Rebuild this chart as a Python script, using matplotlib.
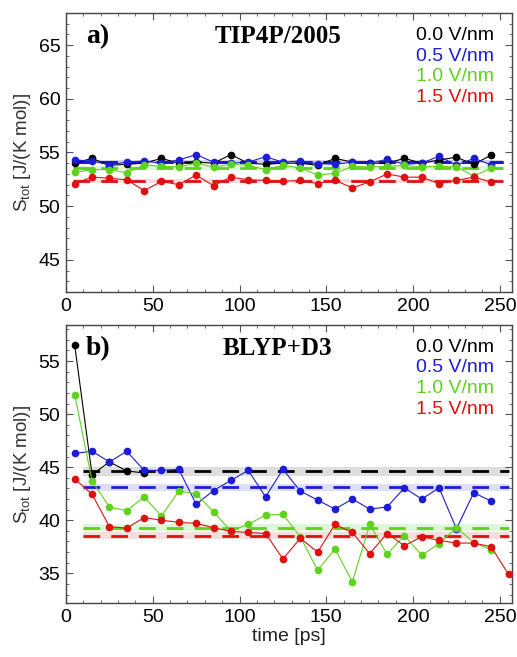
import numpy as np
import matplotlib
matplotlib.use('Agg')
import matplotlib.pyplot as plt
from matplotlib.ticker import MultipleLocator

plt.rcParams['font.family'] = ['Liberation Sans', 'DejaVu Sans']
plt.rcParams['mathtext.default'] = 'regular'

# --- data: panel a) TIP4P/2005 ---
t_a = np.arange(5, 250, 10)
a_00 = [54.0, 54.45, 53.8, 53.9, 54.0, 54.45, 54.0, 54.1, 54.0, 54.8, 54.0, 53.9, 54.0,
        54.0, 53.8, 54.45, 54.1, 54.0, 54.0, 54.45, 54.0, 54.3, 54.55, 53.9, 54.75]
a_05 = [54.3, 54.2, 53.85, 54.1, 54.2, 54.0, 54.3, 54.8, 54.1, 54.0, 54.1, 54.6, 54.1,
        54.2, 53.95, 53.9, 54.1, 54.0, 54.35, 53.9, 54.0, 54.65, 53.8, 54.45, 53.85]
a_10 = [53.15, 53.4, 53.4, 53.1, 53.85, 53.7, 53.65, 54.0, 53.65, 53.9, 53.8, 53.4, 53.8,
        53.55, 52.9, 53.05, 53.7, 53.65, 53.7, 53.8, 53.65, 53.7, 53.65, 52.8, 53.55]
a_15 = [52.1, 52.7, 52.6, 52.45, 51.45, 52.3, 52.0, 52.9, 51.9, 52.7, 52.45, 52.4, 52.3,
        52.4, 52.1, 52.4, 51.7, 52.25, 53.0, 52.7, 52.7, 52.1, 52.4, 52.7, 52.25]
a_mean = [54.15, 54.15, 53.55, 52.35]
a_err = [0.15, 0.15, 0.15, 0.15]

# --- data: panel b) BLYP+D3 ---
t_b0 = np.arange(5, 50, 10)
b_00 = [56.5, 44.3, 45.5, 44.65, 44.45]
t_b = np.arange(5, 250, 10)
b_05 = [46.3, 46.5, 45.5, 46.5, 44.7, 44.7, 44.8, 41.5, 42.8, 43.75, 44.7, 42.2, 44.8,
        42.75, 41.9, 41.05, 42.0, 41.05, 41.25, 43.05, 42.0, 43.05, 39.2, 42.6, 41.8]
b_10 = [51.85, 43.7, 41.25, 40.9, 42.2, 40.4, 42.75, 42.5, 40.8, 39.0, 39.6, 40.5, 40.55,
        38.45, 35.3, 37.3, 34.2, 39.6, 36.8, 38.55, 36.7, 37.8, 39.3, 37.9, 37.2]
t_b3 = np.arange(5, 260, 10)
b_15 = [43.9, 42.45, 39.4, 39.25, 40.25, 40.0, 39.8, 39.7, 39.3, 38.95, 38.85, 38.75, 36.35,
        38.3, 37.0, 39.6, 38.85, 36.85, 38.75, 37.6, 38.45, 38.1, 37.85, 37.85, 37.5, 34.9]
b_mean = [44.6, 43.1, 39.3, 38.55]
b_err = [0.45, 0.35, 0.35, 0.35]

fields = ['0.0 V/nm', '0.5 V/nm', '1.0 V/nm', '1.5 V/nm']
colors = ['#000000', '#1c1cd6', '#5fd21e', '#e01010']
bands = ['#c8c8c8', '#c8c8f0', '#c8f0c0', '#f0c8c8']

fig = plt.figure(figsize=(5.17, 6.57), dpi=100)
ax1 = fig.add_axes([0.1277, 0.5556, 0.8626, 0.4247])
ax2 = fig.add_axes([0.1277, 0.0822, 0.8626, 0.4231])


def style(ax, ylim, ymaj):
    ax.set_xlim(0, 257)
    ax.set_ylim(*ylim)
    ax.xaxis.set_major_locator(MultipleLocator(50))
    ax.xaxis.set_minor_locator(MultipleLocator(10))
    ax.yaxis.set_major_locator(MultipleLocator(ymaj))
    ax.yaxis.set_minor_locator(MultipleLocator(1))
    ax.tick_params(which='both', direction='in', top=True, right=True,
                   color='#555555', labelsize=14, pad=4)
    ax.tick_params(which='major', length=5, width=0.8)
    ax.tick_params(which='minor', length=2.5, width=0.6)
    for s in ax.spines.values():
        s.set_color('#444444')
        s.set_linewidth(1.0)
    ax.set_ylabel(r'S$_{tot}$ [J/(K mol)]', fontsize=13.5, color='#333333', labelpad=4)


def panel(ax, series, means, errs, x0, x1):
    for (t, y), m, e, c, b in zip(series, means, errs, colors, bands):
        ax.fill_between([x0, x1], m - e, m + e, color=b, alpha=0.6, lw=0, zorder=1)
        ax.plot([x0, x1], [m, m], color=c, lw=2.0, dashes=(6, 4), zorder=2)
    for (t, y), c in zip(series, colors):
        ax.plot(t, y, color=c, lw=0.8, marker='o', ms=4.5, zorder=3)


panel(ax1, [(t_a, a_00), (t_a, a_05), (t_a, a_10), (t_a, a_15)], a_mean, a_err, 4, 252)
panel(ax2, [(t_b0, b_00), (t_b, b_05), (t_b, b_10), (t_b3, b_15)], b_mean, b_err, 10, 255)

style(ax1, (42, 68), 5)
style(ax2, (32.2, 58.4), 5)
ax2.set_xlabel('time [ps]', fontsize=14, color='#222222', labelpad=2)

for ax, tag, name in [(ax1, 'a)', 'TIP4P/2005'), (ax2, 'b)', 'BLYP+D3')]:
    ax.text(0.045, 0.915, tag, transform=ax.transAxes, fontsize=20, fontweight='bold',
            family='Liberation Serif', va='center')
    ax.text(0.475, 0.915, name, transform=ax.transAxes, fontsize=18, fontweight='bold',
            family='Liberation Serif', ha='center', va='center')
    for i, (lab, c) in enumerate(zip(fields, colors)):
        ax.text(0.96, 0.92 - i * 0.0745, lab, transform=ax.transAxes, fontsize=14,
                color=c, ha='right', va='center')

fig.savefig('out.png', dpi=100)
